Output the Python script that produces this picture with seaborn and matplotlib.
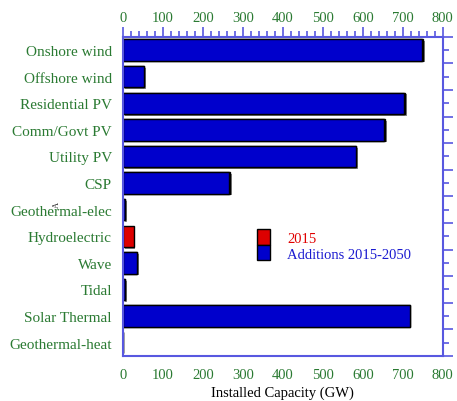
import matplotlib
matplotlib.use("Agg")
import matplotlib.pyplot as plt
import matplotlib.patheffects as pe
from matplotlib.patches import Patch
from matplotlib.ticker import MultipleLocator, FixedLocator
import seaborn as sns
import pandas as pd

techs = ["Onshore wind", "Offshore wind", "Residential PV", "Comm/Govt PV",
         "Utility PV", "CSP", "Geothermal-elec", "Hydroelectric", "Wave",
         "Tidal", "Solar Thermal", "Geothermal-heat"]
cap_2015 = [3, 0, 3, 2, 1, 2, 0, 27, 0, 0, 0, 0]
additions = [747, 53, 703, 654, 582, 266, 6, 0, 36, 5, 717, 1]

df = pd.DataFrame({"tech": techs, "c2015": cap_2015, "add": additions})
df["total"] = df["c2015"] + df["add"]

axis_col = "#5858e0"
tick_col = "#2a7a32"

sns.set_style("white")
plt.rcParams["font.family"] = ["Liberation Serif", "DejaVu Serif"]

fig = plt.figure(figsize=(4.57, 4.02), dpi=100)
ax = fig.add_axes([0.269, 0.112, 0.700, 0.794])

# total (2015 + additions) in red underneath, additions in blue on top
sns.barplot(data=df, x="total", y="tech", orient="h", color="#dd0000",
            edgecolor="black", linewidth=1, saturation=1, width=0.8, ax=ax)
for p in ax.patches:
    p.set_path_effects([pe.SimplePatchShadow(offset=(1.2, -1.2), shadow_rgbFace="#888888", alpha=1), pe.Normal()])
n_red = len(ax.patches)
sns.barplot(data=df, x="add", y="tech", orient="h", color="#0000cc",
            edgecolor="black", linewidth=1, saturation=1, width=0.8, ax=ax)
for p in ax.patches[n_red:]:
    if p.get_width() == 0:
        p.set_visible(False)

ax.set_xlim(0, 800)
ax.set_ylim(len(techs) - 0.5, -0.5)
ax.set_ylabel("")
ax.set_xlabel("Installed Capacity (GW)", fontsize=10.5, color="black", labelpad=3)

ax.xaxis.set_major_locator(MultipleLocator(100))
ax.xaxis.set_minor_locator(MultipleLocator(20))
ax.yaxis.set_minor_locator(FixedLocator([i - 0.5 for i in range(len(techs) + 1)]))

ax.tick_params(axis="both", which="both", direction="out", colors=axis_col,
               top=True, right=True, labeltop=True, labelsize=10.5, width=1.2)
ax.tick_params(axis="x", which="major", length=7, pad=2)
ax.tick_params(axis="x", which="minor", length=4)
ax.tick_params(axis="y", which="major", length=4, pad=4, labelsize=11)
ax.tick_params(axis="y", which="minor", length=7)
for lab in ax.get_xticklabels() + ax.get_yticklabels():
    lab.set_color(tick_col)
for t in ax.xaxis.get_major_ticks():
    t.label2.set_color(tick_col)

for s in ax.spines.values():
    s.set_color(axis_col)
    s.set_linewidth(1.5)

handles = [Patch(facecolor="#dd0000", edgecolor="black", linewidth=1),
           Patch(facecolor="#0000cc", edgecolor="black", linewidth=1)]
leg = ax.legend(handles, ["2015", "Additions 2015-2050"], loc="upper left",
                bbox_to_anchor=(0.40, 0.415), frameon=False, fontsize=10.5,
                handlelength=0.9, handleheight=1.25, labelspacing=0.0,
                handletextpad=1.2, borderaxespad=0)
leg.get_texts()[0].set_color("#e00000")
leg.get_texts()[1].set_color("#1a1ad0")

# stray glyph in the original figure
fig.text(57 / 457, 1 - 205 / 402, "A", rotation=90, fontsize=6, ha="center", va="center")

fig.savefig("out.png", dpi=100)
